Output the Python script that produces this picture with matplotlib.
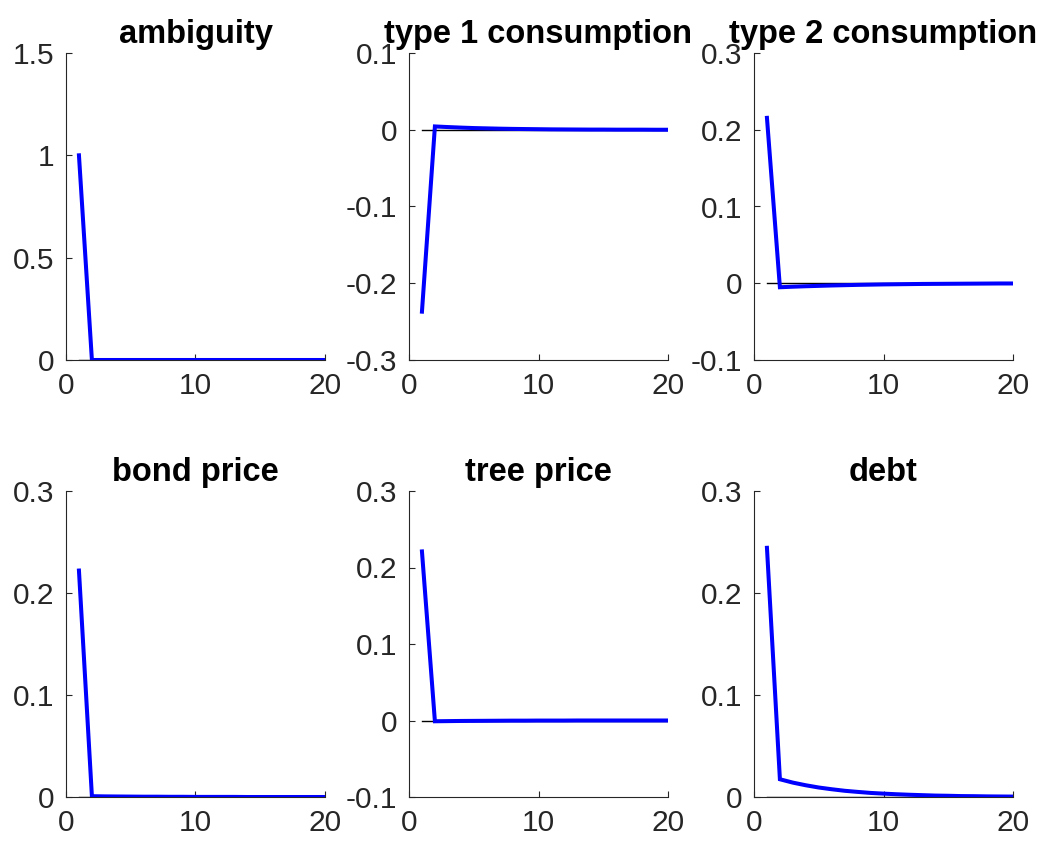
import matplotlib
matplotlib.use("Agg")
import matplotlib.pyplot as plt

t = list(range(1, 21))

titles = ["ambiguity", "type 1 consumption", "type 2 consumption",
          "bond price", "tree price", "debt"]

ambiguity = [1.0] + [0.0] * 19
type1_cons = [-0.237, 0.0043, 0.0035, 0.0028, 0.0022, 0.0018, 0.0014, 0.0011,
              0.0009, 0.0007, 0.0005, 0.0004, 0.0003, 0.0002, 0.0002, 0.0001,
              0.0001, 0.0001, 0.0, 0.0]
type2_cons = [0.2155, -0.0052, -0.0045, -0.0039, -0.0034, -0.0029, -0.0025,
              -0.0021, -0.0018, -0.0015, -0.0013, -0.0011, -0.0009, -0.0008,
              -0.0007, -0.0006, -0.0005, -0.0004, -0.0003, -0.0003]
bond_price = [0.222, 0.0008, 0.0006, 0.0005, 0.0004, 0.0003, 0.0003, 0.0002,
              0.0002, 0.0001, 0.0001, 0.0001, 0.0001, 0.0, 0.0, 0.0, 0.0, 0.0,
              0.0, 0.0]
tree_price = [0.221, -0.0010, -0.0008, -0.0006, -0.0005, -0.0004, -0.0003,
              -0.0002, -0.0002, -0.0001, -0.0001, -0.0001, 0.0, 0.0, 0.0, 0.0,
              0.0, 0.0, 0.0, 0.0]
debt = [0.2443, 0.0174, 0.0141, 0.0115, 0.0093, 0.0076, 0.0061, 0.0050,
        0.0040, 0.0033, 0.0027, 0.0022, 0.0018, 0.0014, 0.0012, 0.0009,
        0.0008, 0.0006, 0.0005, 0.0004]

series = [ambiguity, type1_cons, type2_cons, bond_price, tree_price, debt]

ylims = [(0, 1.5), (-0.3, 0.1), (-0.1, 0.3), (0, 0.3), (-0.1, 0.3), (0, 0.3)]
yticks = [[0, 0.5, 1, 1.5], [-0.3, -0.2, -0.1, 0, 0.1], [-0.1, 0, 0.1, 0.2, 0.3],
          [0, 0.1, 0.2, 0.3], [-0.1, 0, 0.1, 0.2, 0.3], [0, 0.1, 0.2, 0.3]]
yticklabels = [["0", "0.5", "1", "1.5"], ["-0.3", "-0.2", "-0.1", "0", "0.1"],
               ["-0.1", "0", "0.1", "0.2", "0.3"], ["0", "0.1", "0.2", "0.3"],
               ["-0.1", "0", "0.1", "0.2", "0.3"], ["0", "0.1", "0.2", "0.3"]]
xticks = [0, 10, 20]
xticklabels = ["0", "10", "20"]

plt.rcParams['font.family'] = ['Liberation Sans', 'DejaVu Sans']

W, H = 1047, 846
fig = plt.figure(figsize=(W / 100, H / 100), dpi=100)

lefts = [66, 409, 754]
tops = [53, 491]
bottoms = [360, 797]
width = 259
gray = "#262626"

for i in range(6):
    r, c = divmod(i, 3)
    l = lefts[c] / W
    b = 1 - bottoms[r] / H
    h = (bottoms[r] - tops[r]) / H
    ax = fig.add_axes([l, b, width / W, h])
    ax.plot(t, [0] * len(t), color="black", linewidth=1.0, zorder=2)
    ax.plot(t, series[i], color="#0000ff", linewidth=2.9, zorder=3,
            solid_joinstyle="miter")
    ax.set_xlim(0, 20)
    ax.set_ylim(*ylims[i])
    ax.set_xticks(xticks)
    ax.set_xticklabels(xticklabels)
    ax.set_yticks(yticks[i])
    ax.set_yticklabels(yticklabels[i])
    for s in ["top", "right"]:
        ax.spines[s].set_visible(False)
    for s in ["left", "bottom"]:
        ax.spines[s].set_color(gray)
        ax.spines[s].set_linewidth(0.8)
    ax.tick_params(direction="in", length=4, width=0.8, colors=gray,
                   labelsize=21.5)
    ax.tick_params(axis="x", pad=8.5)
    ax.tick_params(axis="y", pad=8.5)
    ax.set_title(titles[i], fontsize=23.5, fontweight="bold", color="black", pad=7.5)

fig.savefig("out.png", dpi=100)
